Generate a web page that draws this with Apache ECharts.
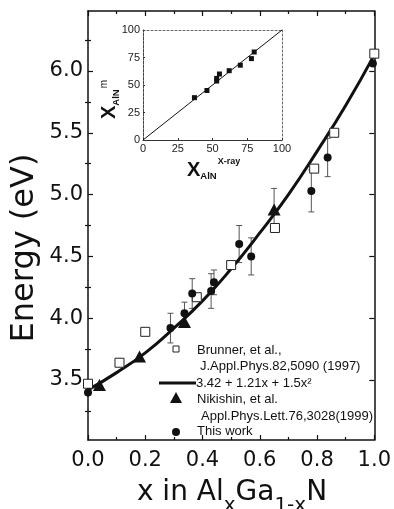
<!DOCTYPE html>
<html>
<head>
<meta charset="utf-8">
<script src="https://cdn.jsdelivr.net/npm/echarts@6/dist/echarts.min.js"></script>
<style>
  html, body { margin: 0; padding: 0; background: #fff; }
  #chart { width: 394px; height: 509px; }
</style>
</head>
<body>
<div id="chart"></div>
<script>
// main panel: band gap of AlGaN vs Al fraction
const fitX = [0, 0.1, 0.2, 0.3, 0.4, 0.5, 0.6, 0.7, 0.8, 0.9, 1.0];
const fitE = [3.42, 3.56, 3.72, 3.92, 4.14, 4.40, 4.69, 5.00, 5.35, 5.72, 6.13];

const brunnerX = [0, 0.11, 0.20, 0.38, 0.50, 0.653, 0.79, 0.86, 1.0];
const brunnerE = [3.47, 3.64, 3.89, 4.17, 4.43, 4.73, 5.21, 5.50, 6.14];

const nikishinX = [0.04, 0.18, 0.337, 0.65];
const nikishinE = [3.46, 3.69, 3.97, 4.88];
const nikishinErr = [0, 0, 0, 0.17];

const workX = [0, 0.288, 0.337, 0.364, 0.43, 0.44, 0.528, 0.57, 0.78, 0.837, 0.995];
const workE = [3.40, 3.92, 4.04, 4.20, 4.22, 4.29, 4.60, 4.50, 5.03, 5.30, 6.06];
const workErr = [0, 0.12, 0.09, 0.12, 0.14, 0.10, 0.15, 0.15, 0.17, 0.155, 0];

const energyTicks = [3.5, 4.0, 4.5, 5.0, 5.5, 6.0];
const energyMinor = [3.25, 3.75, 4.25, 4.75, 5.25, 5.75, 6.25];

// inset: x measured vs x from X-ray
const insetXray = [37, 46, 53, 53, 55, 62, 70, 78, 80];
const insetMeasured = [38.5, 45, 53.6, 56, 60, 63, 68, 74, 80];
const insetDiag = [0, 100];

const pairs = (xs, ys) => xs.map((x, i) => [x, ys[i]]);
const errRows = (xs, ys, es) =>
  xs.map((x, i) => [x, ys[i] - es[i], ys[i] + es[i]]).filter((r, i) => es[i] > 0);

const INK = '#111';
const WIDE = '"DejaVu Sans", sans-serif';
const SANS = '"Liberation Sans", Arial, sans-serif';

function errorBar(params, api) {
  const x = api.value(0);
  const top = api.coord([x, api.value(2)]);
  const bot = api.coord([x, api.value(1)]);
  const cap = 3;
  const style = { stroke: '#555', lineWidth: 1 };
  return {
    type: 'group',
    children: [
      { type: 'line', shape: { x1: top[0], y1: top[1], x2: bot[0], y2: bot[1] }, style },
      { type: 'line', shape: { x1: top[0] - cap, y1: top[1], x2: top[0] + cap, y2: top[1] }, style },
      { type: 'line', shape: { x1: bot[0] - cap, y1: bot[1], x2: bot[0] + cap, y2: bot[1] }, style }
    ]
  };
}

const frameLine = { show: true, onZero: false, lineStyle: { color: INK, width: 1.5 } };
const majorTick = { show: true, inside: true, length: 5, lineStyle: { color: INK, width: 1.2 } };
const minorTick = { show: true, splitNumber: 2, length: 3, lineStyle: { color: INK, width: 1.2 } };

const mainX = (pos, labels) => ({
  type: 'value', gridIndex: 0, position: pos, min: 0, max: 1, interval: 0.2,
  axisLine: frameLine, axisTick: majorTick, minorTick: minorTick, splitLine: { show: false },
  axisLabel: {
    show: labels, margin: 10, fontFamily: WIDE, fontSize: 21, color: INK,
    formatter: v => v.toFixed(1)
  }
});

const mainY = (pos, ticks, len, labels) => ({
  type: 'value', gridIndex: 0, position: pos, min: 3.015, max: 6.485, offset: 0,
  axisLine: labels ? frameLine : { show: false },
  axisTick: { show: true, inside: true, length: len, customValues: ticks, lineStyle: { color: INK, width: 1.2 } },
  splitLine: { show: false },
  axisLabel: {
    show: labels, customValues: energyTicks, margin: 5, fontFamily: WIDE, fontSize: 21, color: INK,
    formatter: v => v.toFixed(1)
  }
});

const insetLabel = { fontFamily: SANS, fontSize: 11, color: '#222', margin: 3 };
const dotted = { show: true, onZero: false, lineStyle: { color: '#666', width: 1, type: [2, 2] } };
const solid = { color: INK, opacity: 1 };

const chart = echarts.init(document.getElementById('chart'));
chart.setOption({
  backgroundColor: '#fff',
  animation: false,
  grid: [
    { left: 88, top: 11, width: 288, height: 429 },
    { left: 143, top: 30, width: 139, height: 110 }
  ],
  xAxis: [
    mainX('bottom', true),
    mainX('top', false),
    {
      type: 'value', gridIndex: 1, position: 'bottom', min: 0, max: 100, interval: 25,
      axisLine: { show: true, onZero: false, lineStyle: { color: '#333', width: 1 } },
      axisTick: { show: true, inside: true, length: 2, lineStyle: { color: '#333' } },
      splitLine: { show: false }, axisLabel: insetLabel
    },
    {
      type: 'value', gridIndex: 1, position: 'top', min: 0, max: 100,
      axisLine: dotted, axisTick: { show: false }, axisLabel: { show: false }, splitLine: { show: false }
    }
  ],
  yAxis: [
    mainY('left', energyTicks, 5, true),
    mainY('left', energyMinor, 3, false),
    Object.assign(mainY('right', energyTicks, 5, false), { axisLine: frameLine }),
    mainY('right', energyMinor, 3, false),
    {
      type: 'value', gridIndex: 1, position: 'left', min: 0, max: 100, interval: 25,
      axisLine: { show: true, onZero: false, lineStyle: { color: '#444', width: 1, type: [3, 1] } },
      axisTick: { show: true, inside: true, length: 2, lineStyle: { color: '#333' } },
      splitLine: { show: false }, axisLabel: insetLabel
    },
    {
      type: 'value', gridIndex: 1, position: 'right', min: 0, max: 100,
      axisLine: dotted, axisTick: { show: false }, axisLabel: { show: false }, splitLine: { show: false }
    }
  ],
  series: [
    {
      name: 'fit', type: 'line', xAxisIndex: 0, yAxisIndex: 0, smooth: true, symbol: 'none',
      data: pairs(fitX, fitE), lineStyle: { color: INK, width: 3 }, z: 3
    },
    {
      name: 'error bars', type: 'custom', xAxisIndex: 0, yAxisIndex: 0, renderItem: errorBar,
      encode: { x: 0, y: [1, 2] },
      data: errRows(workX, workE, workErr).concat(errRows(nikishinX, nikishinE, nikishinErr)), z: 2
    },
    {
      name: 'Brunner', type: 'scatter', xAxisIndex: 0, yAxisIndex: 0, symbol: 'rect', symbolSize: 9,
      data: pairs(brunnerX, brunnerE),
      itemStyle: { color: '#fff', borderColor: '#222', borderWidth: 1, opacity: 1 }, z: 4
    },
    {
      name: 'Nikishin', type: 'scatter', xAxisIndex: 0, yAxisIndex: 0, symbol: 'triangle', symbolSize: [13, 12],
      data: pairs(nikishinX, nikishinE), itemStyle: solid, z: 5
    },
    {
      name: 'This work', type: 'scatter', xAxisIndex: 0, yAxisIndex: 0, symbol: 'circle', symbolSize: 8,
      data: pairs(workX, workE), itemStyle: solid, z: 5
    },
    {
      name: 'diag', type: 'line', xAxisIndex: 2, yAxisIndex: 4, symbol: 'none',
      data: pairs(insetDiag, insetDiag), lineStyle: { color: INK, width: 1 }
    },
    {
      name: 'inset', type: 'scatter', xAxisIndex: 2, yAxisIndex: 4, symbol: 'rect', symbolSize: 5,
      data: pairs(insetXray, insetMeasured), itemStyle: solid
    }
  ],
  graphic: [
    // axis titles
    {
      type: 'text', x: 25, y: 248, rotation: Math.PI / 2,
      style: { text: 'Energy (eV)', fontFamily: WIDE, fontSize: 32, fill: INK, align: 'center', verticalAlign: 'middle' }
    },
    {
      type: 'text', x: 232, y: 479,
      style: {
        text: '{m|x in Al}{s|x}{m|Ga}{s|1-x}{m|N}', fill: INK, align: 'center', verticalAlign: 'top',
        rich: {
          m: { fontFamily: WIDE, fontSize: 28, lineHeight: 28, verticalAlign: 'top' },
          s: { fontFamily: WIDE, fontSize: 20, lineHeight: 20, verticalAlign: 'top', padding: [17, 0, 0, 0] }
        }
      }
    },
    // inset titles
    {
      type: 'text', x: 187, y: 157,
      style: {
        text: '{b|X}{s|AlN}{p|X-ray}', fill: INK, align: 'left', verticalAlign: 'top',
        rich: {
          b: { fontFamily: SANS, fontWeight: 'bold', fontSize: 20, lineHeight: 20, verticalAlign: 'top', padding: [3, 0, 0, 0] },
          s: { fontFamily: SANS, fontWeight: 'bold', fontSize: 9.5, lineHeight: 10, verticalAlign: 'top', padding: [14, 0, 0, 0] },
          p: { fontFamily: SANS, fontWeight: 'bold', fontSize: 9, lineHeight: 9, verticalAlign: 'top', padding: [0, 0, 0, 1] }
        }
      }
    },
    {
      type: 'text', x: 99, y: 119, rotation: Math.PI / 2,
      style: {
        text: '{b|X}{s|AlN}{p|m}', fill: INK, align: 'left', verticalAlign: 'top',
        rich: {
          b: { fontFamily: SANS, fontWeight: 'bold', fontSize: 20, lineHeight: 20, verticalAlign: 'top' },
          s: { fontFamily: SANS, fontWeight: 'bold', fontSize: 9.5, lineHeight: 10, verticalAlign: 'top', padding: [12, 0, 0, 0] },
          p: { fontFamily: SANS, fontSize: 10, lineHeight: 10, verticalAlign: 'top', padding: [0, 0, 0, 1] }
        }
      }
    },
    // legend
    { type: 'rect', shape: { x: 173, y: 346, width: 6, height: 6 }, style: { fill: '#fff', stroke: '#222', lineWidth: 1 } },
    { type: 'text', x: 197, y: 350, style: { text: 'Brunner, et al.,', fontFamily: SANS, fontSize: 13, fill: INK, verticalAlign: 'middle' } },
    { type: 'text', x: 200, y: 366, style: { text: 'J.Appl.Phys.82,5090 (1997)', fontFamily: SANS, fontSize: 13, fill: INK, verticalAlign: 'middle' } },
    { type: 'line', shape: { x1: 159, y1: 383, x2: 196, y2: 383 }, style: { stroke: INK, lineWidth: 3 } },
    { type: 'text', x: 196, y: 383, style: { text: '3.42 + 1.21x + 1.5x²', fontFamily: SANS, fontSize: 13, fill: INK, verticalAlign: 'middle' } },
    { type: 'polygon', shape: { points: [[176, 392], [182, 403], [170, 403]] }, style: { fill: INK } },
    { type: 'text', x: 197, y: 399, style: { text: 'Nikishin, et al.', fontFamily: SANS, fontSize: 13, fill: INK, verticalAlign: 'middle' } },
    { type: 'text', x: 201, y: 416, style: { text: 'Appl.Phys.Lett.76,3028(1999)', fontFamily: SANS, fontSize: 13, fill: INK, verticalAlign: 'middle' } },
    { type: 'circle', shape: { cx: 176, cy: 432, r: 4 }, style: { fill: INK } },
    { type: 'text', x: 197, y: 431, style: { text: 'This work', fontFamily: SANS, fontSize: 13, fill: INK, verticalAlign: 'middle' } }
  ]
});
</script>
</body>
</html>
